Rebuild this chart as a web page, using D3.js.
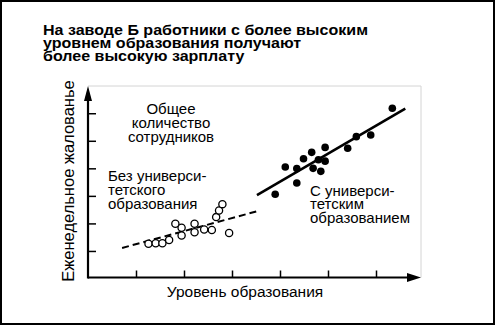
<!DOCTYPE html>
<html>
<head>
<meta charset="utf-8">
<script src="https://cdn.jsdelivr.net/npm/d3@7"></script>
<style>
  body { margin: 0; background: #fff; }
  svg { display: block; font-family: "Liberation Sans", Arial, sans-serif; }
</style>
</head>
<body>
<svg id="chart"></svg>
<script>
// title lines
var titleLines = ["На заводе Б работники с более высоким", "уровнем образования получают", "более высокую зарплату"];

// workers without a university degree: [education, weekly pay]
var noDegree = [
  [1.26, 1.26], [1.41, 1.28], [1.55, 1.28], [1.69, 1.40], [1.82, 1.99],
  [1.95, 1.84], [1.95, 1.56], [2.22, 1.99], [2.22, 1.68], [2.42, 1.78],
  [2.58, 1.76], [2.67, 2.23], [2.73, 2.47], [2.80, 2.70], [2.94, 1.65]
];
// workers with a university degree
var withDegree = [
  [3.90, 3.06], [4.11, 4.05], [4.35, 3.99], [4.35, 3.47], [4.49, 4.35],
  [4.66, 4.58], [4.69, 4.00], [4.80, 4.31], [4.85, 3.89], [4.94, 4.76],
  [4.94, 4.26], [5.41, 4.73], [5.59, 5.15], [5.89, 5.21], [6.34, 6.18]
];
// trend lines
var dashedTrend = [[0.71, 1.11], [3.52, 2.44]];
var solidTrend = [[3.52, 3.03], [6.61, 6.17]];

var xTicks = [1, 2, 3, 4, 5, 6];
var yTicks = [1, 2, 3, 4, 5, 6];

var labelTotal = ["Общее", "количество", "сотрудников"];
var labelNoDegree = ["Без универси-", "тетского", "образования"];
var labelDegree = ["С универси-", "тетским", "образованием"];
var xLabel = "Уровень образования";
var yLabel = "Еженедельное жалованье";

var width = 497,
    height = 328;

var svg = d3.select("#chart")
  .attr("width", width)
  .attr("height", height);

// outer frame
svg.append("rect")
  .attr("x", 1).attr("y", 1)
  .attr("width", 493).attr("height", 323)
  .attr("fill", "none")
  .attr("stroke", "#000")
  .attr("stroke-width", 2);

var x = d3.scaleLinear().domain([0, 7]).range([88, 424]);
var y = d3.scaleLinear().domain([0, 7]).range([278.5, 85.7]);

var axisY0 = 277.5, plotTop = 86, plotRight = 421;

// faint plot box (top / right)
svg.append("path")
  .attr("d", "M" + x(0) + "," + plotTop + "H" + plotRight + "V" + axisY0)
  .attr("fill", "none")
  .attr("stroke", "#d4d4d4")
  .attr("stroke-width", 1);

// title (slightly widened to match the original lettering)
svg.append("text")
  .attr("font-weight", "bold")
  .attr("font-size", 15)
  .attr("transform", "translate(43,0) scale(1.07,1)")
  .selectAll("tspan")
  .data(titleLines)
  .enter().append("tspan")
  .attr("x", 0)
  .attr("y", function(d, i) { return 35 + i * 13; })
  .text(function(d) { return d; });

// ticks
svg.append("g")
  .attr("transform", "translate(0," + axisY0 + ")")
  .call(d3.axisBottom(x).tickValues(xTicks).tickSize(-7).tickFormat(""))
  .call(function(g) { g.select(".domain").remove(); })
  .selectAll("line").attr("stroke-width", 1.5);

svg.append("g")
  .attr("transform", "translate(" + x(0) + ",0)")
  .call(d3.axisLeft(y).tickValues(yTicks).tickSize(-8).tickFormat(""))
  .call(function(g) { g.select(".domain").remove(); })
  .selectAll("line").attr("stroke-width", 1.5);

// axis lines with arrows
svg.append("line")
  .attr("x1", x(0)).attr("y1", axisY0)
  .attr("x2", plotRight - 12).attr("y2", axisY0)
  .attr("stroke", "#000").attr("stroke-width", 2.2);
svg.append("path")
  .attr("d", "M" + plotRight + "," + axisY0 + "L" + (plotRight - 14) + "," + (axisY0 - 4.5) + "L" + (plotRight - 14) + "," + (axisY0 + 4.5) + "Z")
  .attr("fill", "#000");
svg.append("line")
  .attr("x1", x(0)).attr("y1", axisY0 + 1)
  .attr("x2", x(0)).attr("y2", plotTop + 12)
  .attr("stroke", "#000").attr("stroke-width", 2.2);
svg.append("path")
  .attr("d", "M" + x(0) + "," + plotTop + "L" + (x(0) - 4) + "," + (plotTop + 15) + "L" + (x(0) + 4) + "," + (plotTop + 15) + "Z")
  .attr("fill", "#000");

// axis labels
svg.append("text")
  .attr("x", 245).attr("y", 297)
  .attr("text-anchor", "middle")
  .attr("font-size", 15.5)
  .text(xLabel);

svg.append("text")
  .attr("transform", "translate(74,181) rotate(-90)")
  .attr("text-anchor", "middle")
  .attr("font-size", 16.5)
  .text(yLabel);

// trend lines
var line = d3.line()
  .x(function(d) { return x(d[0]); })
  .y(function(d) { return y(d[1]); });

svg.append("path")
  .datum(dashedTrend)
  .attr("d", line)
  .attr("fill", "none")
  .attr("stroke", "#000")
  .attr("stroke-width", 2)
  .attr("stroke-dasharray", "7,4");

svg.append("path")
  .datum(solidTrend)
  .attr("d", line)
  .attr("fill", "none")
  .attr("stroke", "#000")
  .attr("stroke-width", 2.6);

// points
svg.append("g").selectAll("circle")
  .data(noDegree)
  .enter().append("circle")
  .attr("cx", function(d) { return x(d[0]); })
  .attr("cy", function(d) { return y(d[1]); })
  .attr("r", 3.6)
  .attr("fill", "#fff")
  .attr("stroke", "#000")
  .attr("stroke-width", 1.3);

svg.append("g").selectAll("circle")
  .data(withDegree)
  .enter().append("circle")
  .attr("cx", function(d) { return x(d[0]); })
  .attr("cy", function(d) { return y(d[1]); })
  .attr("r", 3.8)
  .attr("fill", "#000");

// annotations
function block(lines, px, py, lh, anchor) {
  svg.append("text")
    .attr("font-size", 15)
    .attr("text-anchor", anchor)
    .selectAll("tspan")
    .data(lines)
    .enter().append("tspan")
    .attr("x", px)
    .attr("y", function(d, i) { return py + i * lh; })
    .text(function(d) { return d; });
}
block(labelTotal, 171, 113.5, 14.3, "middle");
block(labelNoDegree, 108, 181, 13.8, "start");
block(labelDegree, 310, 195.5, 13.8, "start");
</script>
</body>
</html>
